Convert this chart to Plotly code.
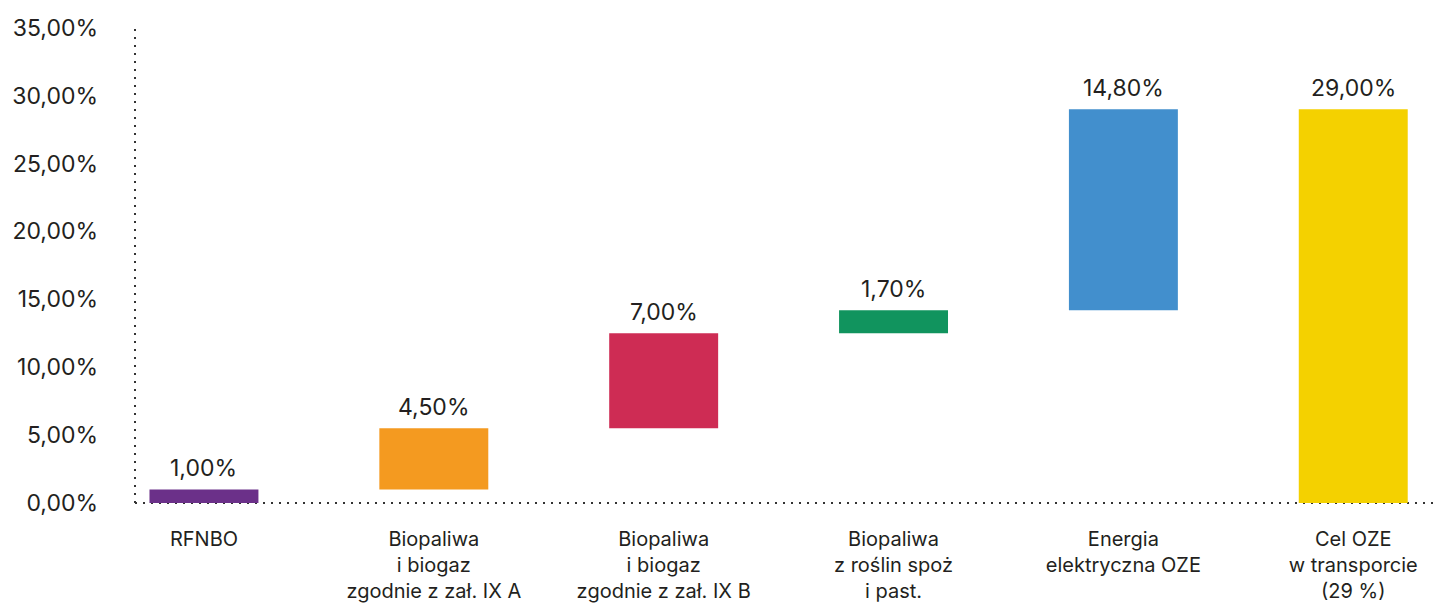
import plotly.graph_objects as go

# Contributions of each fuel type to the RES target in transport (%)
categories = [
    "RFNBO",
    "Biopaliwa<br>i biogaz<br>zgodnie z zał. IX A",
    "Biopaliwa<br>i biogaz<br>zgodnie z zał. IX B",
    "Biopaliwa<br>z roślin spoż<br>i past.",
    "Energia<br>elektryczna OZE",
    "Cel OZE<br>w transporcie<br>(29 %)",
]
contributions = [1.00, 4.50, 7.00, 1.70, 14.80]
target_total = 29.00

y_tick_values = [0, 5, 10, 15, 20, 25, 30, 35]
y_tick_labels = ["0,00%", "5,00%", "10,00%", "15,00%", "20,00%", "25,00%", "30,00%", "35,00%"]

bar_colors = ["#6B3089", "#F49A20", "#CE2C54", "#11945E", "#428FCD", "#F4D100"]
text_color = "#231F20"
font_family = "Inter, 'Open Sans', sans-serif"

# Waterfall: each contribution starts where the previous one ended, total starts at zero
bases, running = [], 0.0
for v in contributions:
    bases.append(running)
    running += v
heights = contributions + [target_total]
bases.append(0.0)
tops = [b + h for b, h in zip(bases, heights)]


def pct(v):
    return f"{v:.2f}".replace(".", ",") + "%"


fig = go.Figure(
    go.Bar(
        x=categories,
        y=heights,
        base=bases,
        width=0.474,
        marker=dict(color=bar_colors, line=dict(width=0)),
        hoverinfo="skip",
    )
)

for cat, top, val in zip(categories, tops, heights):
    fig.add_annotation(
        x=cat, y=top, text=pct(val), showarrow=False,
        yanchor="bottom", yshift=5,
        font=dict(family=font_family, size=23, color=text_color),
    )

# Dotted axis lines
dot_line = dict(color="#333333", width=2, dash="2px,6px")
fig.add_shape(type="line", xref="paper", yref="paper", x0=0, x1=0, y0=0, y1=1,
              line=dot_line, layer="below")
fig.add_shape(type="line", xref="paper", yref="paper", x0=0, x1=1, y0=0, y1=0,
              line=dot_line, layer="below")

fig.update_layout(
    width=1436,
    height=605,
    margin=dict(l=135, r=0, t=25, b=102, autoexpand=False),
    paper_bgcolor="white",
    plot_bgcolor="white",
    showlegend=False,
    font=dict(family=font_family, color=text_color),
    xaxis=dict(
        type="category",
        range=[-0.3, 5.36],
        automargin=False,
        showgrid=False, zeroline=False, showline=False,
        ticks="",
        ticklabelstandoff=22,
        tickfont=dict(family=font_family, size=20, color=text_color),
    ),
    yaxis=dict(
        range=[0, 35.2],
        tickvals=y_tick_values,
        ticktext=y_tick_labels,
        automargin=False,
        showgrid=False, zeroline=False, showline=False,
        ticks="",
        ticklabelstandoff=36,
        tickfont=dict(family=font_family, size=23, color=text_color),
    ),
)

fig.write_html("out.html")
